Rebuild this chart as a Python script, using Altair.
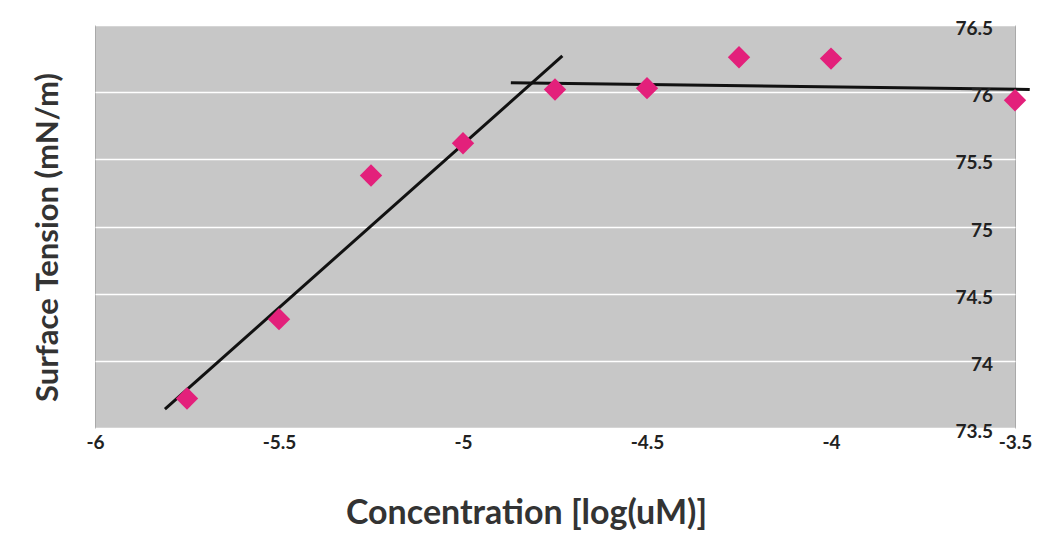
import altair as alt
import pandas as pd

# Measured points
conc = [-5.75, -5.5, -5.25, -5.0, -4.75, -4.5, -4.25, -4.0, -3.5]
tension = [73.72, 74.31, 75.38, 75.62, 76.02, 76.03, 76.26, 76.25, 75.94]

# Two hand-fitted trend lines (endpoints)
steep_x = [-5.81, -4.73]
steep_y = [73.64, 76.27]
flat_x = [-4.87, -3.46]
flat_y = [76.07, 76.02]

x_ticks = [-6, -5.5, -5, -4.5, -4, -3.5]
y_ticks = [73.5, 74, 74.5, 75, 75.5, 76, 76.5]
y_tick_labels = ["73.5", "74", "74.5", "75", "75.5", "76", "76.5"]

pts = pd.DataFrame({"x": conc, "y": tension})
lines = pd.DataFrame({
    "x": steep_x + flat_x,
    "y": steep_y + flat_y,
    "seg": ["a", "a", "b", "b"],
})
ylab = pd.DataFrame({"v": y_ticks, "t": y_tick_labels})

W, H = 920, 403
FONT = "Lato"
LABEL_EXPR = "datum.value < 0 ? '-' + format(-datum.value, '~g') : format(datum.value, '~g')"

xs = alt.Scale(domain=[-6, -3.5], nice=False, zero=False)
ys = alt.Scale(domain=[73.5, 76.5], nice=False, zero=False)

x_axis = alt.Axis(
    title="Concentration [log(uM)]", values=x_ticks, grid=False, domain=False,
    ticks=False, labelPadding=5, labelFontSize=19, labelFontWeight="bold",
    labelFont=FONT, labelColor="#222222", labelFlush=False, labelExpr=LABEL_EXPR,
    titleFont=FONT, titleFontSize=34, titleFontWeight="bold", titleColor="#333333",
    titleX=431, titleY=68, titleAlign="center", titleBaseline="top",
)
y_axis = alt.Axis(
    title="Surface Tension (mN/m)", orient="left",
    values=y_ticks, grid=True, gridColor="#ffffff", gridWidth=1.6,
    domain=False, ticks=False, labels=False,
    titleFont=FONT, titleFontSize=31, titleFontWeight="bold", titleColor="#333333",
    titleAngle=270, titleX=48 - 95, titleY=212,
    titleAlign="center", titleBaseline="middle",
)

line_layer = alt.Chart(lines).mark_line(color="#111111", strokeWidth=3).encode(
    x=alt.X("x:Q", scale=xs, axis=x_axis),
    y=alt.Y("y:Q", scale=ys, axis=y_axis),
    detail="seg:N",
)
pt_layer = alt.Chart(pts).mark_point(
    shape="diamond", filled=True, size=500, color="#e3207b", opacity=1
).encode(
    x=alt.X("x:Q", scale=xs),
    y=alt.Y("y:Q", scale=ys),
)
# y tick labels sit inside the plot, near its right edge
ylab_layer = alt.Chart(ylab).mark_text(
    align="right", baseline="middle", dy=4, font=FONT, fontSize=19,
    fontWeight="bold", color="#222222",
).encode(
    x=alt.value(W - 22),
    y=alt.Y("v:Q", scale=ys),
    text="t:N",
)

chart = alt.layer(line_layer, pt_layer, ylab_layer).properties(
    width=W, height=H,
    autosize=alt.AutoSizeParams(type="none"),
    padding={"left": 87, "top": 17, "right": 20, "bottom": 110},
    background="#ffffff",
).configure_view(fill="#c7c7c7", stroke="#a9a9a9", strokeWidth=1)

chart.save("out.html", embed_options={"renderer": "svg", "actions": False})
